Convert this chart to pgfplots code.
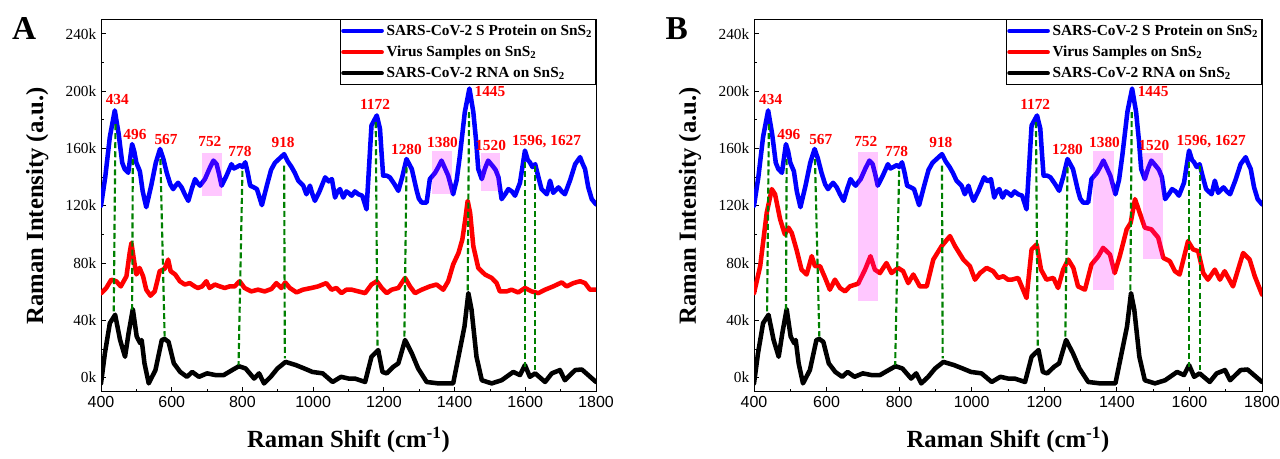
\documentclass[border=0pt]{standalone}
\usepackage{fontspec}
\setmainfont{Liberation Serif}
\newfontfamily\arialf{Liberation Sans}
\usepackage{pgfplots}
\usepackage{pgfplotstable}
\pgfplotsset{compat=1.18}
\definecolor{dgreen}{RGB}{0,128,0}
\definecolor{pinkbox}{RGB}{255,0,255}

\pgfplotstableread{
x y
400 120
412 140
425 168
439 186.5
450 170
460 150
467 145.6
477 143
488 163
494 158
500 150
510 144
518 130
528 119
542 134
555 150
567 159.6
576 153
586 143
596 135
604 131.6
611 134
618 136
628 132.8
637 128
647 123.4
657 132
666 138.6
673 136
680 134
694 138.6
707 146
718 151.5
727 149
734 142
741 134
755 141
769 149
776 146
784 147
794 148.4
800 147
808 150.3
815 143
822 134
831 133
841 131.6
848 126
855 120.4
869 134
881 145
892 150
905 153
918 156
928 151
939 147
948 143
958 137.5
972 134
981 128
991 134
998 128
1005 123.4
1018 130
1034 139.8
1044 137
1053 138.6
1062 125.7
1069 130
1076 131.6
1085 125.7
1094 130
1100 129
1109 127
1118 130
1128 128
1139 127
1151 117.5
1165 176
1180 183
1189 173.7
1194 155
1198 141
1208 141
1217 139.8
1230 135
1241 130.4
1252 140
1264 152.6
1279 145.6
1293 130.4
1299 125
1307 122.2
1321 122.2
1330 138.6
1345 143
1354 147
1363 151.5
1373 146
1382 141
1396 128
1406 138
1415 155
1429 185.4
1442 201.8
1453 185.4
1461 165
1467 145.6
1477 138.6
1486 146
1495 151.5
1510 147
1516 145
1524 140
1533 124.6
1543 128
1552 131.6
1562 130
1571 127
1585 136
1599 158.5
1607 152
1613 150.3
1620 147
1628 149
1637 140
1646 131.6
1661 128
1670 137.5
1679 129
1694 132.8
1703 130
1712 128
1727 138
1741 149
1755 153.9
1761 150
1769 145.6
1778 133
1788 124.6
1800 121
}\blueT

\pgfplotstableread{
x y
400 -4
411 17
425 38
440 43.9
454 26.3
468 14.6
478 31
490 47.8
501 28.7
511 24
515 26.3
523 10
535 -4
554 5.3
572 26.3
580 27
591 25
606 10
624 4
643 0.6
658 4
677 0.6
700 3
724 1.8
747 1.8
771 5.3
790 8
809 6.4
833 -0.6
847 3
861 -4
880 0.6
899 6.4
922 11
951 8.8
975 6.4
998 4
1027 3
1055 -3
1079 0.6
1100 -0.6
1118 -0.6
1147 -3
1165 14.6
1184 19.3
1196 4
1208 3
1227 7.6
1241 10
1260 26.3
1279 17
1297 6.4
1321 -3
1354 -4
1396 -4
1411 14.6
1428 35.7
1439 59
1448 47.4
1462 14.6
1477 -1.8
1505 -4
1533 -1.8
1566 4
1585 1.8
1599 8.8
1613 0.6
1628 3
1656 -3
1675 3
1698 5.3
1712 -1.8
1741 5.3
1760 5.7
1778 1.8
1800 -3
}\blackT

\pgfplotstableread{
x y
401 59
415 62.6
429 68.4
443 67.3
456 63.7
472 70.8
481 87
486 94
493 82.4
500 72
509 76.6
519 70.8
528 61.4
540 57.2
552 60.2
566 74.3
580 76
590 82.4
597 74.3
610 72
623 67.3
637 65
651 66
665 63.7
674 62.6
686 63.7
698 67.3
707 62.6
722 65
736 63.7
750 62.6
764 63.7
778 63.7
792 67.3
806 62.6
825 60.2
844 61.4
863 60.2
882 61.9
896 66
910 62.6
921 66.4
934 62.6
953 59.5
971 61.4
995 62.6
1014 63.7
1037 66
1052 61.4
1066 62.6
1080 59
1094 61.4
1109 61.4
1128 60.2
1147 59
1165 65
1180 67.3
1194 62.6
1208 59
1222 61.4
1241 62.6
1260 69.6
1274 63.7
1288 59
1307 61.4
1330 63.7
1349 65
1368 61.4
1382 67.3
1396 79
1411 87
1422 96.5
1430 110
1437 123.4
1444 115
1453 91.8
1467 76.6
1486 72
1505 69.6
1519 66
1528 60.2
1547 60.2
1561 61.4
1580 59.5
1599 62.6
1618 60.2
1637 59
1656 61.4
1679 63.7
1703 66.5
1717 63.7
1736 66
1755 67.3
1769 66
1783 61.4
1800 61.4
}\redA

\pgfplotstableread{
x y
400 59
417 77.8
435 115
449 131.6
458 128
472 110.5
485 100
495 104.7
504 101
517 89.5
531 75.4
545 72
559 84.8
568 77.8
582 77.8
596 69.6
609 61.4
623 68.4
637 62.6
651 60.2
664 63.7
687 65.6
706 75.4
721 84.8
733 75.4
747 73
765 80
779 73
797 76.6
811 74.3
825 66
839 72
857 63.7
876 63.7
894 82.4
917 91.8
940 98.8
954 91.8
977 82.4
995 77.8
1009 68.4
1023 73
1041 76.6
1059 74.3
1073 69.6
1087 70.8
1100 68.4
1110 68.4
1128 69.6
1151 55.6
1165 89.5
1179 93
1191 75.4
1206 68.4
1225 69.6
1238 62.6
1252 75.4
1266 82.4
1280 76.6
1293 63.7
1312 61.4
1330 79
1349 84.8
1362 90.6
1381 86
1394 73
1408 84.8
1427 103.5
1438 108
1450 124.6
1463 115
1477 104.7
1495 103.5
1514 97.7
1528 83.6
1546 81.3
1560 74.3
1573 72
1596 95.3
1610 89.5
1624 88.3
1638 73
1651 68.4
1670 75.4
1684 68.4
1697 74.3
1720 63.7
1734 75.4
1748 87
1766 82.4
1780 70.8
1800 58
}\redB

\tikzset{ann/.style={red, font=\bfseries\fontsize{11.5}{11.5}\selectfont}}

\pgfplotsset{
  ramanaxis/.style={
    scale only axis,
    height=279.4pt,
    xmin=400, xmax=1800, ymin=-10, ymax=250,
    xtick={400,600,...,1800},
    minor x tick num=1,
    ytick={0,40,...,240},
    minor y tick num=1,
    yticklabel={\pgfmathprintnumber{\tick}k},
    tick pos=left,
    tick align=inside,
    major tick length=4pt,
    minor tick length=2.5pt,
    tick style={black, line width=0.6pt},
    axis line style={black, line width=0.75pt},
    clip mode=individual,
    /pgf/number format/assume math mode=true,
    /pgf/number format/1000 sep={},
    x tick label style={font=\arialf\fontsize{12}{12}\selectfont},
    y tick label style={font=\fontsize{11.5}{11.5}\selectfont},
    xlabel={Raman Shift (cm\textsuperscript{-1})},
    ylabel={Raman Intensity (a.u.)},
    label style={font=\bfseries\fontsize{18.5}{20}\selectfont},
    xlabel style={at={(axis description cs:0.5,-0.129)}, anchor=center},
    legend style={at={(1,1)}, anchor=north east, draw=black, line width=0.6pt,
      fill=white, font=\bfseries\fontsize{11.5}{13}\selectfont,
      inner xsep=0.5pt, inner ysep=1.5pt, row sep=2.5pt,
      /tikz/every even column/.append style={column sep=0pt}},
    legend cell align=left,
    legend image code/.code={\draw[#1, line width=3pt] (0pt,0pt) -- (29pt,0pt);},
  },
  curve/.style={line width=3.4pt, line join=round, line cap=round},
  gl/.style={dgreen, line width=1.6pt, dash pattern=on 4.5pt off 2.3pt, forget plot},
  pk/.style={draw=none, fill=pinkbox, fill opacity=0.22, forget plot},
}

\newcommand\greenlines{%
  \addplot[gl] coordinates {(441,177) (436,45)};
  \addplot[gl] coordinates {(490,152.6) (488,47.4)};
  \addplot[gl] coordinates {(568,152.6) (580,28.7)};
  \addplot[gl] coordinates {(800,144.4) (789,8.8)};
  \addplot[gl] coordinates {(918,148) (920,13.5)};
  \addplot[gl] coordinates {(1177,178.4) (1182,20.5)};
  \addplot[gl] coordinates {(1264,146.8) (1258,27.5)};
  \addplot[gl] coordinates {(1441,185.4) (1437,59)};
  \addplot[gl] coordinates {(1599,150.3) (1599,7.6)};
  \addplot[gl] coordinates {(1628,148) (1628,5.3)};
}
\newcommand\annots{%
  \node[ann] at (axis cs:446,194) {434};
  \node[ann] at (axis cs:496,170) {496};
  \node[ann] at (axis cs:584,166) {567};
  \node[ann] at (axis cs:708,165) {752};
  \node[ann] at (axis cs:793,158) {778};
  \node[ann] at (axis cs:915,164) {918};
  \node[ann] at (axis cs:1175,190.5) {1172};
  \node[ann] at (axis cs:1264,159) {1280};
  \node[ann] at (axis cs:1366,164) {1380};
  \node[ann] at (axis cs:1500,199.4) {1445};
  \node[ann] at (axis cs:1502,162) {1520};
  \node[ann] at (axis cs:1660,164.8) {1596, 1627};
}

\begin{document}
\begin{tikzpicture}
\path[use as bounding box] (0,0) rectangle (960pt,344.25pt);

\begin{axis}[ramanaxis, width=371.25pt, at={(75.75pt,50.25pt)}, anchor=south west,
  ylabel style={at={(axis description cs:-0.129,0.5)}, anchor=center}]
\addplot[curve, blue] table[x=x,y=y] {\blueT};
\addlegendentry{SARS-CoV-2 S Protein on SnS\textsubscript{2}}
\addplot[curve, red] table[x=x,y=y] {\redA};
\addlegendentry{Virus Samples on SnS\textsubscript{2}}
\addplot[curve, black] table[x=x,y=y] {\blackT};
\addlegendentry{SARS-CoV-2 RNA on SnS\textsubscript{2}}
\addplot[pk] coordinates {(687,127) (741,127) (741,157) (687,157)} -- cycle;
\addplot[pk] coordinates {(1337,128) (1392,128) (1392,158.5) (1337,158.5)} -- cycle;
\addplot[pk] coordinates {(1475,130) (1529,130) (1529,157) (1475,157)} -- cycle;
\greenlines
\annots
\node[font=\bfseries\fontsize{25}{25}\selectfont] at (axis description cs:-0.155,0.9745) {A};
\end{axis}

\begin{axis}[ramanaxis, width=381pt, at={(565.5pt,50.25pt)}, anchor=south west,
  ylabel style={at={(axis description cs:-0.126,0.5)}, anchor=center}]
\addplot[curve, blue] table[x=x,y=y] {\blueT};
\addlegendentry{SARS-CoV-2 S Protein on SnS\textsubscript{2}}
\addplot[curve, red] table[x=x,y=y] {\redB};
\addlegendentry{Virus Samples on SnS\textsubscript{2}}
\addplot[curve, black] table[x=x,y=y] {\blackT};
\addlegendentry{SARS-CoV-2 RNA on SnS\textsubscript{2}}
\addplot[pk] coordinates {(687,53.7) (742,53.7) (742,157.3) (687,157.3)} -- cycle;
\addplot[pk] coordinates {(1335,61.4) (1393,61.4) (1393,158.5) (1335,158.5)} -- cycle;
\addplot[pk] coordinates {(1471,82.5) (1528,82.5) (1528,157) (1471,157)} -- cycle;
\greenlines
\annots
\node[font=\bfseries\fontsize{25}{25}\selectfont] at (axis description cs:-0.152,0.9745) {B};
\end{axis}
\end{tikzpicture}
\end{document}
